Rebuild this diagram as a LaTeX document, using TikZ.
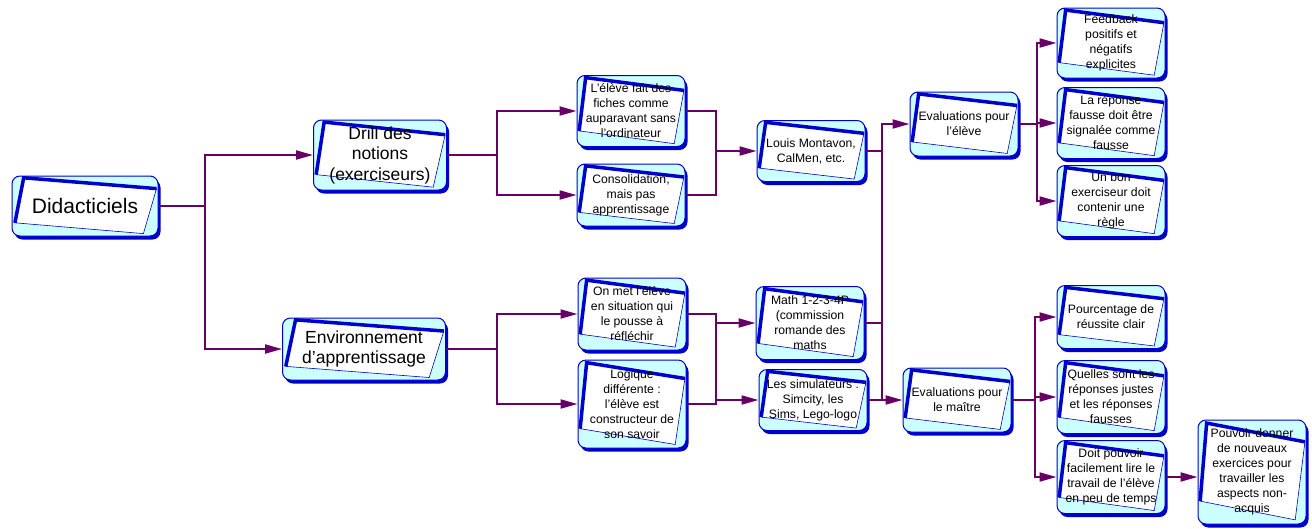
\documentclass[tikz,border=0pt]{standalone}
\usepackage{fontspec}
\setmainfont{Liberation Sans}
\usetikzlibrary{arrows.meta,shadows,calc}
\definecolor{boxcyan}{RGB}{204,255,255}
\definecolor{boxblue}{RGB}{0,0,204}
\definecolor{linkpurple}{RGB}{102,0,102}
\begin{document}
\begin{tikzpicture}[x=1pt,y=-1pt,
    topic/.style={rounded corners=8pt, draw=boxblue, fill=boxcyan, line width=1pt,
      align=center, inner sep=1pt, font=\fontsize{12.2}{15}\selectfont,
      minimum width=108pt,
      drop shadow={shadow xshift=2.5pt, shadow yshift=-3.5pt, fill=boxblue, opacity=1},
      path picture={
        \fill[white, draw=boxblue, line width=0.6pt, sharp corners]
          let \p1=(path picture bounding box.south west),
              \p2=(path picture bounding box.north east),
              \n1={\x2-\x1}, \n2={\y2-\y1} in
          ({\x1+0.08*\n1},{\y2-0.03*\n2}) coordinate (qtl)
          -- ({\x1+0.99*\n1},{\y2-0.21*\n2}) coordinate (qtr)
          -- ({\x1+0.90*\n1},{\y2-0.96*\n2}) coordinate (qbr)
          -- ({\x1+0.02*\n1},{\y2-0.78*\n2}) coordinate (qbl) -- cycle;
        \draw[boxblue, line width=3.5pt, sharp corners] (qbl) -- (qtl) -- (qtr);
      }},
    bigtopic/.style={topic, font=\fontsize{17.5}{20.5}\selectfont},
    link/.style={draw=linkpurple, line width=2pt, -{Triangle[length=17pt,width=9pt]}},
    joint/.style={draw=linkpurple, line width=2pt}]
   \useasboundingbox (0,0) rectangle (1312,528);

   % main topics
   \node[bigtopic, font=\fontsize{21}{24}\selectfont, minimum width=146pt, minimum height=60pt] (didac) at (85,206) {Didacticiels};
   \node[bigtopic, minimum width=133pt, minimum height=70pt] (drill) at (380,155) {Drill des\\notions\\(exerciseurs)};
   \node[bigtopic, minimum width=163pt, minimum height=62pt] (envir) at (364,349) {Environnement\\d'apprentissage};

   % second level
   \node[topic, minimum height=71pt] (fiches) at (631,111) {L'élève fait des\\fiches comme\\auparavant sans\\l'ordinateur};
   \node[topic, minimum height=62pt] (consol) at (631,195) {Consolidation,\\mais pas\\apprentissage};
   \node[topic, minimum height=72pt] (onmet) at (632,314) {On met l'élève\\en situation qui\\le pousse à\\réfléchir};
   \node[topic, minimum height=88pt] (logique) at (632,404) {Logique\\différente :\\l'élève est\\constructeur de\\son savoir};

   % examples
   \node[topic, minimum height=61pt] (louis) at (811,151) {Louis Montavon,\\CalMen, etc.};
   \node[topic, minimum height=73pt] (math) at (810,323) {Math 1-2-3-4P\\(commission\\romande des\\maths};
   \node[topic, minimum height=61pt] (simul) at (813,400) {Les simulateurs :\\Simcity, les\\Sims, Lego-logo};

   % evaluations
   \node[topic, minimum height=64pt] (evaleleve) at (964,124) {Evaluations pour\\l'élève};
   \node[topic, minimum height=64pt] (evalmaitre) at (957,400) {Evaluations pour\\le maître};
   \node[topic, minimum height=70pt] (feedback) at (1111,43) {Feedback\\positifs et\\négatifs\\explicites};
   \node[topic, minimum height=71pt] (reponse) at (1111,123) {La réponse\\fausse doit être\\signalée comme\\fausse};
   \node[topic, minimum height=71pt] (regle) at (1111,201) {Un bon\\exerciseur doit\\contenir une\\règle};
   \node[topic, minimum height=63pt] (pourcent) at (1111,317) {Pourcentage de\\réussite clair};
   \node[topic, minimum height=73pt] (quelles) at (1111,397) {Quelles sont les\\réponses justes\\et les réponses\\fausses};
   \node[topic, minimum height=73pt] (doit) at (1111,477) {Doit pouvoir\\facilement lire le\\travail de l'élève\\en peu de temps};
   \node[topic, minimum height=104pt] (donner) at (1252,472) {Pouvoir donner\\de nouveaux\\exercices pour\\travailler les\\aspects non-\\acquis};

   % junctions
   \coordinate (mergeA) at (716,151);
   \coordinate (mergeB) at (716,360);
   \coordinate (busC) at (882,260);

   \draw[link] (didac.east) -- ++(46,0) |- (drill.west);
   \draw[link] (didac.east) -- ++(46,0) |- (envir.west);
   \draw[link] (drill.east) -- ++(50,0) |- (fiches.west);
   \draw[link] (drill.east) -- ++(50,0) |- (consol.west);
   \draw[link] (envir.east) -- ++(51,0) |- (onmet.west);
   \draw[link] (envir.east) -- ++(51,0) |- (logique.west);

   \draw[joint] (fiches.east) -| (mergeA);
   \draw[joint] (consol.east) -| (mergeA);
   \draw[link] (mergeA) -- (louis.west);
   \draw[joint] (onmet.east) -| (mergeB);
   \draw[joint] (logique.east) -| (mergeB);
   \draw[link] (mergeB) |- (math.west);
   \draw[link] (mergeB) |- (simul.west);

   \draw[joint] (louis.east) -| (busC);
   \draw[joint] (math.east) -| (busC);
   \draw[joint] (simul.east) -| (busC);
   \draw[link] (busC) |- (evaleleve.west);
   \draw[link] (busC) |- (evalmaitre.west);

   \draw[link] (evaleleve.east) -- ++(18,0) |- (feedback.west);
   \draw[link] (evaleleve.east) -- ++(18,0) |- (reponse.west);
   \draw[link] (evaleleve.east) -- ++(18,0) |- (regle.west);
   \draw[link] (evalmaitre.east) -- ++(23,0) |- (pourcent.west);
   \draw[link] (evalmaitre.east) -- ++(23,0) |- (quelles.west);
   \draw[link] (evalmaitre.east) -- ++(23,0) |- (doit.west);
   \draw[link] (doit.east) -- (doit.east -| donner.west);
\end{tikzpicture}
\end{document}
